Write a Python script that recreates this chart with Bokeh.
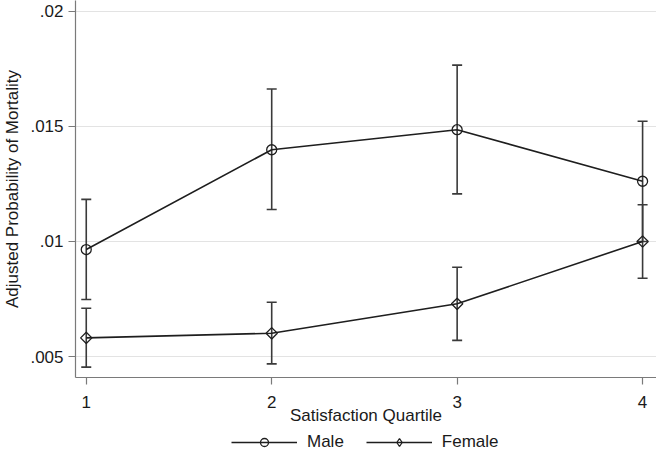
import numpy as np
from bokeh.plotting import figure
from bokeh.layouts import column
from bokeh.models import (ColumnDataSource, Whisker, TeeHead, FixedTicker,
                          Legend, LegendItem, Range1d)
from bokeh.embed import file_html
from bokeh.resources import INLINE

quartile = [1, 2, 3, 4]
male = [0.00965, 0.01399, 0.01486, 0.01262]
male_lo = [0.00748, 0.01139, 0.01207, 0.01000]
male_hi = [0.01183, 0.01663, 0.01767, 0.01523]
female = [0.00581, 0.00601, 0.00729, 0.01000]
female_lo = [0.00454, 0.00468, 0.00570, 0.00840]
female_hi = [0.00710, 0.00736, 0.00888, 0.01160]
y_ticks = [0.005, 0.01, 0.015, 0.02]
y_tick_labels = [".005", ".01", ".015", ".02"]
x_ticks = [1, 2, 3, 4]

FONT = "Liberation Sans"
LINE = "#1e1e1e"
BAR = "#3a3a3a"
AX = "#7a7a7a"
TXT = "#1a1a1a"

p = figure(width=656, height=430, output_backend="svg", toolbar_location=None,
           x_range=Range1d(0.942, 4.075), y_range=Range1d(0.004087, 0.020478),
           min_border_left=72, min_border_right=0, min_border_top=0,
           min_border_bottom=53)
p.outline_line_color = None
p.background_fill_color = "white"
p.border_fill_color = "white"

src_m = ColumnDataSource(dict(x=quartile, y=male, lo=male_lo, hi=male_hi))
src_f = ColumnDataSource(dict(x=quartile, y=female, lo=female_lo, hi=female_hi))

for src in (src_m, src_f):
    w = Whisker(base="x", upper="hi", lower="lo", source=src,
                line_color=BAR, line_width=1.6,
                upper_head=TeeHead(size=10, line_color=BAR, line_width=1.6),
                lower_head=TeeHead(size=10, line_color=BAR, line_width=1.6))
    p.add_layout(w)

p.line("x", "y", source=src_m, line_color=LINE, line_width=1.6)
p.scatter("x", "y", source=src_m, marker="circle", size=10,
          fill_color=None, line_color=LINE, line_width=1.3)
p.line("x", "y", source=src_f, line_color=LINE, line_width=1.6)
p.scatter("x", "y", source=src_f, marker="square", angle=np.pi / 4,
          size=8, fill_color=None, line_color=LINE, line_width=1.3)

# axes
p.xaxis.ticker = FixedTicker(ticks=x_ticks)
p.yaxis.ticker = FixedTicker(ticks=y_ticks)
p.yaxis.major_label_overrides = {t: s for t, s in zip(y_ticks, y_tick_labels)}
p.xaxis.axis_label = "Satisfaction Quartile"
p.yaxis.axis_label = "Adjusted Probability of Mortality"
for ax in (p.xaxis[0], p.yaxis[0]):
    ax.axis_line_color = AX
    ax.axis_line_width = 1.2
    ax.major_tick_line_color = AX
    ax.major_tick_line_width = 1.2
    ax.major_tick_out = 7
    ax.major_tick_in = 0
    ax.minor_tick_line_color = None
    ax.major_label_text_font = FONT
    ax.major_label_text_font_size = "17px"
    ax.major_label_text_color = TXT
    ax.axis_label_text_font = FONT
    ax.axis_label_text_font_size = "17px"
    ax.axis_label_text_font_style = "normal"
    ax.axis_label_text_color = TXT
p.xaxis.major_label_standoff = 11
p.xaxis.axis_label_standoff = -5
p.yaxis.major_label_standoff = 5
p.yaxis.axis_label_standoff = 5
p.yaxis.major_label_orientation = "horizontal"

p.xgrid.grid_line_color = None
p.ygrid.grid_line_color = "#e3e3e3"
p.ygrid.grid_line_width = 1.2

# legend strip below the plot (series drawn out of view, only the key shows)
lg = figure(width=656, height=22, output_backend="svg", toolbar_location=None,
            x_range=Range1d(0.942, 4.075), y_range=Range1d(1, 2),
            x_axis_location=None, y_axis_location=None,
            min_border_left=0, min_border_right=0, min_border_top=0,
            min_border_bottom=0)
lg.outline_line_color = None
lg.xgrid.grid_line_color = None
lg.ygrid.grid_line_color = None
lm = lg.line("x", "y", source=src_m, line_color=LINE, line_width=1.6)
sm = lg.scatter("x", "y", source=src_m, marker="circle",
                fill_color=None, line_color=LINE, line_width=1.3)
lf = lg.line("x", "y", source=src_f, line_color=LINE, line_width=1.6)
sf = lg.scatter("x", "y", source=src_f, marker="diamond",
                fill_color=None, line_color=LINE, line_width=1.3)
legend = Legend(items=[LegendItem(label="Male", renderers=[lm, sm]),
                       LegendItem(label="Female", renderers=[lf, sf])],
                orientation="horizontal", location=(156, 0),
                border_line_color=None, background_fill_alpha=0,
                label_text_font=FONT, label_text_font_size="17px",
                label_text_color=TXT,
                glyph_width=66, glyph_height=20, label_standoff=10,
                spacing=22, padding=1, margin=0)
lg.add_layout(legend, "center")

layout = column(p, lg, spacing=0)
open("out.html", "w").write(file_html(layout, INLINE))
